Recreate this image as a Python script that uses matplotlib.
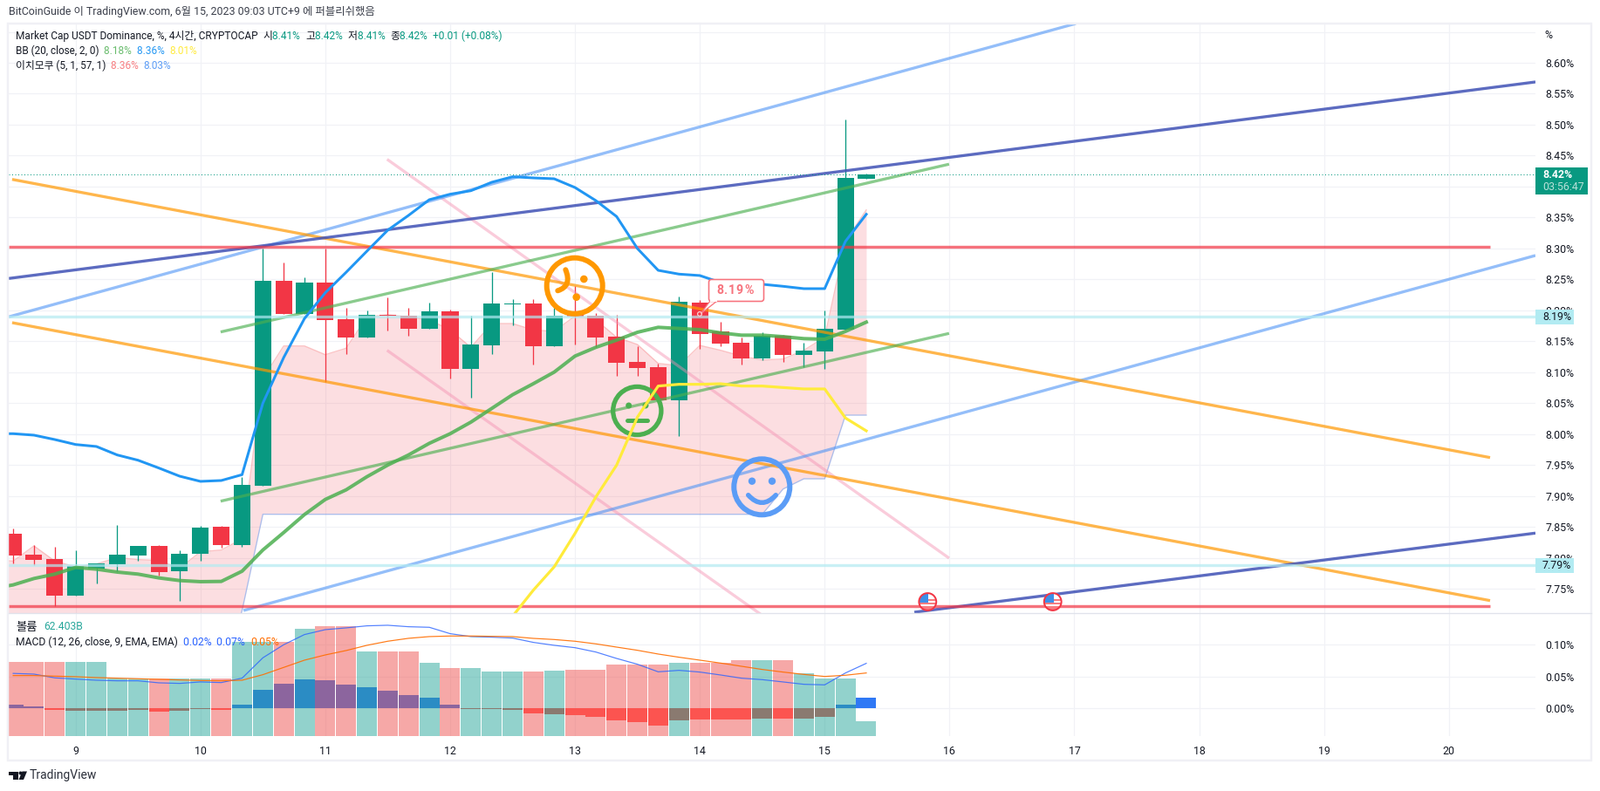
import numpy as np
import matplotlib
matplotlib.use("Agg")
import matplotlib.pyplot as plt
from matplotlib import font_manager as fm
from matplotlib.patches import Circle, Rectangle, FancyBboxPatch, PathPatch, Polygon
from matplotlib.path import Path

names = {f.name for f in fm.fontManager.ttflist}
cjk = [n for n in ["Noto Sans CJK KR","Noto Sans CJK JP","Noto Sans CJK SC","Noto Sans CJK TC"] if n in names]
plt.rcParams["font.family"] = ["Roboto"] + cjk

# ---------- data ----------
OPEN_TOP = [7.8388,7.805,7.7979,7.7865,7.7908,7.805,7.819,7.819,7.8064,7.8487,7.85,7.9177,8.2476,8.2476,8.2448,8.2448,
            8.1856,8.1926,8.1926,8.1907,8.1983,8.1983,8.1447,8.2109,8.2109,8.2109,8.1912,8.192,8.1912,8.1573,8.1165,
            8.108,8.2137,8.2123,8.1658,8.1475,8.1587,8.1587,8.1348,8.17,8.4139,8.4195]
BODY_BOT = [7.804,7.7965,7.7392,7.7392,7.783,7.79,7.804,7.777,7.7786,7.8068,7.821,7.821,7.9168,8.194,8.194,8.1846,
            8.1564,8.1564,8.1907,8.17,8.17,8.1057,8.1057,8.1433,8.2095,8.1423,8.1423,8.190,8.1564,8.1155,8.107,
            8.054,8.0544,8.162,8.1465,8.1221,8.1221,8.1277,8.1277,8.1338,8.1691,8.413]
HIGHS = [7.8473,7.8205,7.8177,7.812,7.7908,7.853,7.819,7.8205,7.812,7.8515,7.8515,7.9304,8.30,8.277,8.2532,8.30,
         8.2039,8.1997,8.2208,8.2039,8.2123,8.2011,8.1912,8.2617,8.218,8.2175,8.2034,8.2386,8.195,8.1926,8.1423,
         8.113,8.2222,8.2165,8.1813,8.1564,8.1644,8.1597,8.147,8.1996,8.5079,8.4214]
LOWS = [7.7913,7.7876,7.7223,7.7392,7.759,7.7786,7.7956,7.771,7.7307,7.7956,7.8167,7.818,7.9168,8.194,8.194,8.0845,
        8.1292,8.1564,8.1672,8.1588,8.17,8.0897,8.0592,8.1292,8.1752,8.1127,8.1423,8.1447,8.1399,8.0939,8.0939,
        8.054,7.9971,8.1376,8.1423,8.1118,8.1197,8.1164,8.1085,8.1056,8.1691,8.413]
IS_UP = [0,0,0,1,1,1,1,0,1,1,0,1,1,0,1,0,0,1,0,0,1,0,1,1,1,0,1,0,0,0,0,0,1,0,0,0,1,0,1,1,1,1]

VOLUME_B = [312,312,312,312,312,241,241,241,241,241,241,396,396,396,448,462.5,462.5,356,356,356,305,286,286,268,268,268,
            275,279,279,301,301,301,305,308,308,319,319,319,261,239,239,62.4]
MACD_HIST = [.0055,.0027,-.0027,-.0041,-.0041,-.0041,-.0027,-.0055,-.0041,-.0014,-.0027,.0055,.0288,.0384,.0452,.0438,
             .037,.0329,.0274,.0205,.0164,.0055,-.0014,-.0014,-.0027,-.0082,-.0096,-.011,-.0137,-.0192,-.0219,-.0274,
             -.0192,-.0178,-.0178,-.0178,-.0164,-.0164,-.0164,-.0137,.0055,.0164]
MACD_LINE = [.0550,.0539,.048,.0461,.0443,.0434,.0434,.0402,.0393,.0416,.0406,.0475,.0795,.1,.116,.1237,.1265,.1297,
             .1306,.1283,.1274,.1174,.1128,.1119,.1105,.1037,.0991,.0954,.0886,.0785,.0694,.0575,.0598,.0571,.0525,
             .0475,.0452,.0416,.0379,.037,.0557,.0708]
MACD_SIGNAL = [.0516,.0516,.0507,.0498,.0484,.0475,.0466,.0457,.0447,.0438,.0434,.0443,.0530,.0644,.0758,.0840,.0909,
               .0991,.1055,.1101,.1128,.1137,.1137,.1132,.1128,.1100,.1082,.1055,.1014,.0963,.0913,.0854,.0804,.0758,
               .0712,.0662,.0612,.0571,.0534,.0502,.0521,.0557]

BARS_LINE = list(range(-1, 42))
BB_UPPER = [8.0005,8.0005,7.9981,7.9910,7.9830,7.9798,7.9661,7.9576,7.9450,7.9318,7.9234,7.9248,7.9342,8.0498,8.1235,
            8.1866,8.2283,8.2613,8.2955,8.3294,8.3533,8.3787,8.3876,8.3932,8.4069,8.4158,8.4139,8.4125,8.3984,8.3773,
            8.3515,8.2998,8.2645,8.2584,8.2561,8.2448,8.2420,8.2420,8.2387,8.2349,8.2349,8.3114,8.3551]
BB_BASIS = [7.75,7.7561,7.7664,7.7735,7.7843,7.7815,7.7768,7.7735,7.7674,7.7631,7.7613,7.7617,7.7782,7.8125,7.8407,
            7.8698,7.8942,7.9097,7.9309,7.9497,7.9661,7.9849,8.0004,8.0192,8.0413,8.0634,8.0813,8.10,8.1259,8.14,
            8.1517,8.1644,8.1724,8.1705,8.1686,8.1634,8.1597,8.1597,8.1573,8.1541,8.1531,8.1658,8.1808]
BARS_LOWER = list(range(24, 42))
BB_LOWER = [7.7053,7.7476,7.7852,7.8392,7.898,7.9496,8.0272,8.0775,8.0803,8.0803,8.0812,8.0775,8.0775,8.0751,8.0728,
            8.0728,8.0258,8.0051]
CLOUD_TOP = [7.797,7.7946,7.8191,7.7946,7.7852,7.7899,7.8003,7.797,7.7956,7.7829,7.8097,7.8125,7.8303,8.0897,8.1423,
             8.1423,8.1282,8.1386,8.1893,8.1926,8.1893,8.1846,8.1682,8.14,8.1785,8.1785,8.1682,8.1658,8.1907,8.1846,
             8.1564,8.1447,8.1141,8.1104,8.1432,8.1353,8.1259,8.1197,8.1212,8.1353,8.1564,8.3115,8.3622]
CLOUD_BOT = [7.60]*12 + [7.7147,7.8703] + [7.8702]*23 + [7.8702,7.9111,7.9276,7.9276,8.0305,8.0305]
CLOUD_BOT = CLOUD_BOT[:43]

# trendlines: ((bar, price), (bar, price))
DARK_LINES = [((-0.21,8.2514),(73.16,8.5690)), ((43.31,7.7119),(73.16,7.8398))]
LIGHT_LINES = [((-0.21,8.1894),(51.07,8.6634)), ((11.07,7.7147),(73.16,8.2885))]
ORANGE_LINES = [((-0.05,8.4115),(70.98,7.9619)), ((-0.05,8.1799),(70.98,7.7307))]
PINK_LINES = [((17.97,8.444),(44.98,7.7993)), ((17.97,8.1352),(44.98,7.4935))]
GREEN_LINES = [((9.97,8.1649),(44.98,8.4361)), ((9.97,7.8914),(44.98,8.1626))]
RED_LEVELS = [8.3021, 7.7218]
CYAN_LEVELS = [8.1894, 7.7876]
LAST_PRICE = 8.42
DAYS = list(range(9, 21))
PRICE_TICKS = [7.75,7.80,7.85,7.90,7.95,8.00,8.05,8.10,8.15,8.20,8.25,8.30,8.35,8.40,8.45,8.50,8.55,8.60,8.65]
UNLABELLED_TICKS = [8.40, 8.65]
MACD_TICKS = [0.00, 0.05, 0.10]

# ---------- layout ----------
W, H = 1834, 907
fig = plt.figure(figsize=(W/100, H/100), dpi=100, facecolor="white")
def pos(x0, y0, x1, y1):
    return [x0/W, 1-y1/H, (x1-x0)/W, (y1-y0)/H]

XLIM = (-0.214, 73.16)
TXT = "#131722"; GRID = "#f1f2f6"
UP, DOWN = "#089981", "#f23645"
PX = 0.72
TICK_FS = 8.9

ov = fig.add_axes([0,0,1,1], zorder=10, facecolor="none")
ov.set_xlim(0,W); ov.set_ylim(H,0); ov.axis("off")

ax = fig.add_axes(pos(10, 27, 1760, 703), zorder=2)
ax.set_xlim(XLIM); ax.set_ylim(7.7105, 8.6634)
bars = np.arange(42)
day_x = [3 + 6*(d-9) for d in DAYS]
ax.set_xticks(day_x); ax.set_yticks(PRICE_TICKS)
ax.grid(True, color=GRID, lw=1.2*PX, zorder=0); ax.set_axisbelow(True)
for s in ax.spines.values(): s.set_visible(False)
ax.tick_params(axis="x", length=0, labelbottom=False)
ax.yaxis.tick_right()
ax.set_yticklabels(["" if t in UNLABELLED_TICKS else f"{t:.2f}%" for t in PRICE_TICKS], fontsize=TICK_FS, color=TXT)
ax.tick_params(axis="y", length=0, pad=8)

# cloud
ax.fill_between(BARS_LINE, CLOUD_BOT, CLOUD_TOP, color="#f23645", alpha=0.16, lw=0, zorder=1)
ax.plot(BARS_LINE, CLOUD_TOP, color="#f77c80", alpha=0.45, lw=1.3*PX, zorder=1.1)
ax.plot(BARS_LINE, CLOUD_BOT, color="#5b9cf6", alpha=0.5, lw=1.3*PX, zorder=1.1)

# candles
for i in bars:
    c = UP if IS_UP[i] else DOWN
    ax.vlines(i, LOWS[i], HIGHS[i], color=c, lw=1.3*PX, zorder=2)
    ax.bar(i, OPEN_TOP[i]-BODY_BOT[i], bottom=BODY_BOT[i], width=0.8, color=c, lw=0, zorder=2.1)

# drawings
for group, col, al in [(PINK_LINES,"#f48fb1",.45),(LIGHT_LINES,"#4d94f5",.6),(ORANGE_LINES,"#ff9800",.7),
                       (GREEN_LINES,"#4caf50",.65),(DARK_LINES,"#3f51b5",.85)]:
    for (b0,p0),(b1,p1) in group:
        ax.plot([b0,b1],[p0,p1],color=col,alpha=al,lw=3.3*PX,solid_capstyle="butt",zorder=3)
for lv in RED_LEVELS:
    ax.plot([XLIM[0],70.98],[lv,lv],color="#f23645",alpha=.7,lw=3.4*PX,solid_capstyle="butt",zorder=3)
for lv in CYAN_LEVELS:
    ax.axhline(lv,color="#b2ebf2",alpha=.7,lw=3.3*PX,zorder=3)
ax.axhline(LAST_PRICE,color=UP,lw=1*PX,ls=(0,(1,2.5)),zorder=3)

# Bollinger
ax.plot(BARS_LINE,BB_UPPER,color="#2196f3",lw=3*PX,zorder=4,solid_joinstyle="round")
ax.plot(BARS_LINE,BB_BASIS,color="#4caf50",alpha=.85,lw=4*PX,zorder=4,solid_joinstyle="round")
ax.plot(BARS_LOWER,BB_LOWER,color="#ffeb3b",lw=3.2*PX,zorder=4,solid_joinstyle="round")

# lower pane: grid / volume / macd
lo_pos = pos(10, 703, 1760, 843.5)
MACD_YLIM = (-0.0427, 0.1497)
ax_lo = fig.add_axes(lo_pos, zorder=1)
ax_lo.set_xlim(XLIM); ax_lo.set_ylim(MACD_YLIM)
ax_lo.set_xticks(day_x); ax_lo.set_xticklabels([str(d) for d in DAYS], fontsize=TICK_FS, color=TXT)
ax_lo.set_yticks(MACD_TICKS)
ax_lo.yaxis.tick_right()
ax_lo.set_yticklabels([f"{t:.2f}%" for t in MACD_TICKS], fontsize=TICK_FS, color=TXT)
ax_lo.tick_params(axis="y", length=0, pad=8)
ax_lo.tick_params(axis="x", length=0, pad=8)
ax_lo.grid(True, color=GRID, lw=1.2*PX); ax_lo.set_axisbelow(True)
for s in ax_lo.spines.values(): s.set_visible(False)

ax_vol = fig.add_axes(lo_pos, zorder=1.5, facecolor="none", sharex=ax_lo)
ax_vol.set_ylim(0, 515.8); ax_vol.axis("off")
ax_vol.bar(bars, VOLUME_B, width=0.965, lw=0, alpha=.5,
           color=["#26a69a" if u else "#ef5350" for u in IS_UP])

ax_hi = fig.add_axes(lo_pos, zorder=1.7, facecolor="none", sharex=ax_lo)
ax_hi.set_ylim(MACD_YLIM); ax_hi.axis("off")
hist_cols = []
for h, u in zip(MACD_HIST, IS_UP):
    if h >= 0:
        hist_cols.append("#2b8cc4" if u else "#8c659e")
    else:
        hist_cols.append("#8a7a70" if u else "#fc5450")
hist_cols[-1] = "#2f78f5"
ax_hi.bar(bars, MACD_HIST, width=0.965, lw=0, color=hist_cols)
ax_hi.plot(bars, MACD_LINE, color="#2962ff", alpha=.8, lw=1.2*PX)
ax_hi.plot(bars, MACD_SIGNAL, color="#ff6d00", alpha=.9, lw=1.2*PX)

fig.canvas.draw()
def py(p):
    return H - ax.transData.transform((0,p))[1]

# frame
ov.add_patch(Rectangle((9,26.5),1815,845,fill=False,ec="#f0f0f5",lw=2.5*PX))
ov.plot([10,1824],[703,703],color="#e0e3eb",lw=1.3*PX)

# price labels
ov.add_patch(Rectangle((1760,192),60,30.7,fc=UP,ec="none"))
ov.text(1768,200.5,f"{LAST_PRICE:.2f}%",color="white",fontsize=TICK_FS,fontweight="bold",va="center")
ov.text(1768,214.5,"03:56:47",color="#b8e0d8",fontsize=TICK_FS,va="center")
for lv in CYAN_LEVELS:
    y = py(lv)
    ov.add_patch(Rectangle((1760,y-8.5),44,17,fc="#b2ebf2",ec="none"))
    ov.text(1768,y,f"{lv:.2f}%",color=TXT,fontsize=TICK_FS,va="center")
ov.text(1770,41,"%",color=TXT,fontsize=TICK_FS,va="center")

# chained legend texts
rend = fig.canvas.get_renderer()
def chain(x, y, parts, fs=8.7):
    for s, c in parts:
        t = ov.text(x, y, s, color=c, fontsize=fs, va="center", ha="left")
        x += t.get_window_extent(rend).width
LBL = "#131722"
G = UP
chain(10,14,[("BitCoinGuide 이 TradingView.com, 6월 15, 2023 09:03 UTC+9 에 퍼블리쉬했음","#3a3e4a")],fs=8.9)
chain(18,41.5,[("Market Cap USDT Dominance, %, 4시간, CRYPTOCAP  ",LBL),("시",LBL),("8.41%  ",G),("고",LBL),("8.42%  ",G),
               ("저",LBL),("8.41%  ",G),("종",LBL),("8.42%  ",G),("+0.01 (+0.08%)",G)],fs=8.55)
chain(18,58.5,[("BB (20, close, 2, 0)  ",LBL),("8.18%  ","#66bb6a"),("8.36%  ","#2196f3"),("8.01%","#ffeb3b")],fs=8.5)
chain(18,75.5,[("이치모쿠 (5, 1, 57, 1)  ",LBL),("8.36%  ","#f77c80"),("8.03%","#5b9cf6")],fs=8.5)
chain(18,719,[("볼륨",LBL)],fs=9.6)
chain(50,719,[("62.403B","#26a69a")])
chain(18,736,[("MACD (12, 26, close, 9, EMA, EMA)  ",LBL),("0.02%  ","#2962ff"),("0.07%  ","#2962ff"),("0.05%","#ff6d00")])

# sticker faces: sit over the drawings, under the Bollinger lines
STICK = 3.5
def face(cx, cy, r, lw, col):
    ax.add_patch(Circle((cx,cy),r,fill=False,ec=col,lw=lw*PX,transform=ov.transData,zorder=STICK,clip_on=False))
def dot(x,y,r,col):
    ax.add_patch(Circle((x,y),r,fc=col,ec="none",transform=ov.transData,zorder=STICK,clip_on=False))
def curve(p0,c,p1,col,lw):
    ax.add_patch(PathPatch(Path([p0,c,p1],[Path.MOVETO,Path.CURVE3,Path.CURVE3]),fill=False,ec=col,lw=lw*PX,
                           capstyle="round",transform=ov.transData,zorder=STICK,clip_on=False))
OR,GR,BL = "#ff9800","#4caf50","#5b9cf6"
face(658.7,327.7,32,6,OR); dot(669.3,320,4.3,OR); dot(660.7,340.7,4.3,OR)
curve((648.3,309.3),(656,328),(639.3,333.3),OR,6)
face(730.3,471,27.6,5.3,GR); dot(720.7,465,3.5,GR); dot(740,465,3.5,GR)
ax.plot([719,742],[482,482],color=GR,lw=5*PX,solid_capstyle="round",transform=ov.transData,zorder=STICK)
face(873.3,558.3,32,6,BL); dot(862,551.7,4.2,BL); dot(885,551.7,4.2,BL)
curve((857.7,567.7),(873.3,585),(889.3,567.7),BL,5.5)

# callout
RC = "#f7727c"
ov.add_patch(Polygon([(814,345),(822,345),(803,360)],closed=True,fc="white",ec=RC,lw=1.3*PX,zorder=5))
ov.add_patch(FancyBboxPatch((812.5,320.5),63,25,boxstyle="round,pad=0,rounding_size=3",fc="white",ec=RC,lw=1.6*PX,zorder=6))
ov.plot([815,821],[345.2,345.2],color="white",lw=2*PX,zorder=7)
ov.add_patch(Circle((802,360),2.4,fc="none",ec="#fbd5d8",lw=1.2*PX,zorder=6))
for ch, dx in zip("8.19%", [0,8.5,13.5,22,32]):
    ov.text(821+dx,333,ch,color=RC,fontsize=10.2,fontweight="bold",ha="left",va="center",zorder=8)

# flags
for fx in (1063.3,1206.7):
    fy = 690
    disc = Circle((fx,fy),9.5,fc="white",ec="none",zorder=6)
    ov.add_patch(disc)
    for y0, h0 in [(fy-3.5,2.2),(fy+0.5,2.2),(fy+4.5,5)]:
        r = Rectangle((fx-10,y0),20,h0,fc="#f77c80",ec="none",zorder=6.1)
        ov.add_patch(r); r.set_clip_path(disc)
    b = Rectangle((fx-10,fy-10),11,10.5,fc="#3d8fe8",ec="none",zorder=6.2)
    ov.add_patch(b); b.set_clip_path(disc)
    ov.add_patch(Circle((fx,fy),9.9,fill=False,ec="#f23645",lw=2*PX,zorder=6.3))

# logo
K="#131722"
ov.add_patch(Polygon([(10,884.5),(20.5,884.5),(20.5,894),(15,894),(15,888.5),(10,888.5)],closed=True,fc=K,ec="none"))
ov.add_patch(Circle((23.5,886.5),2,fc=K,ec="none"))
ov.add_patch(Polygon([(25.5,884.5),(31,884.5),(27,894),(21.5,894)],closed=True,fc=K,ec="none"))
ov.text(33.5,889,"TradingView",color="#2a2e39",fontsize=10,va="center")

fig.savefig("out.png",dpi=100,facecolor="white")
